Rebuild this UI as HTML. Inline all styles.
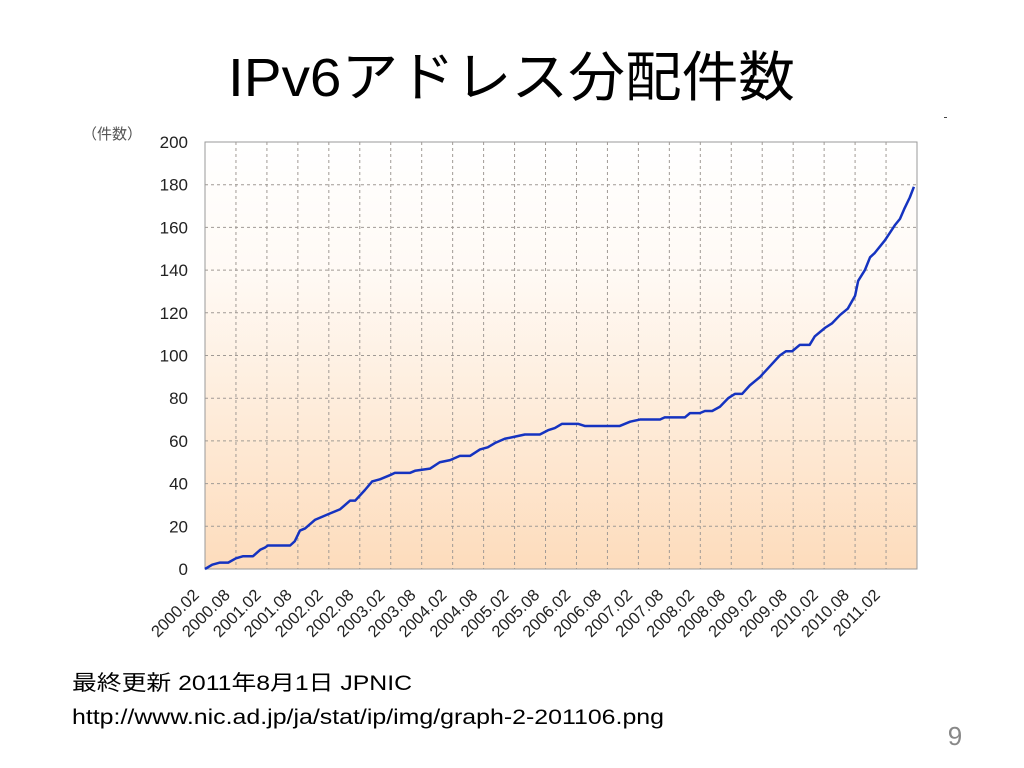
<!DOCTYPE html>
<html><head><meta charset="utf-8"><style>
html,body{margin:0;padding:0;background:#fff;width:1024px;height:768px;overflow:hidden;font-family:"Liberation Sans","Noto Sans CJK JP",sans-serif}
</style></head><body>
<svg width="1024" height="768" viewBox="0 0 1024 768">
<defs><linearGradient id="bg" x1="0" y1="0" x2="0" y2="1">
<stop offset="0" stop-color="#ffffff"/><stop offset="0.3" stop-color="#fffaf5"/><stop offset="1" stop-color="#fddcbc"/></linearGradient></defs>
<text x="228" y="96" font-size="54" textLength="567" lengthAdjust="spacingAndGlyphs" fill="#000">IPv6アドレス分配件数</text>
<rect x="944" y="117" width="3" height="1" fill="#444"/>
<text x="82" y="139" font-size="15" fill="#555">（件数）</text>
<rect x="205" y="142" width="712" height="427" fill="url(#bg)"/>
<g id="grid"></g>
<rect x="205" y="142" width="712" height="427" fill="none" stroke="#999" stroke-width="1"/>
<g id="yticks"></g><g id="xticks"></g>
<polyline id="line" fill="none" stroke="#1533c0" stroke-width="2.5" stroke-linejoin="round"/>
<text x="72" y="690" font-size="21" textLength="340" lengthAdjust="spacingAndGlyphs" fill="#000">最終更新 2011年8月1日 JPNIC</text>
<text x="72" y="724" font-size="21" textLength="592" lengthAdjust="spacingAndGlyphs" fill="#000">http://www.nic.ad.jp/ja/stat/ip/img/graph-2-201106.png</text>
<text x="955" y="745" font-size="26" fill="#888" text-anchor="middle">9</text>
</svg>
<script>
const yTicks=[0,20,40,60,80,100,120,140,160,180,200];
const xLabels=["2000.02","2000.08","2001.02","2001.08","2002.02","2002.08","2003.02","2003.08","2004.02","2004.08","2005.02","2005.08","2006.02","2006.08","2007.02","2007.08","2008.02","2008.08","2009.02","2009.08","2010.02","2010.08","2011.02"];
const months=[0,1.4,2.9,4.5,6,7.4,9.3,10.7,11.6,12.2,16.5,17.4,18.4,19.4,21.3,24.2,26.2,28.1,29.1,31,32.4,33.9,35.9,36.8,39.7,40.7,43.6,45.5,47.5,49.4,51.4,53.3,54.8,56.2,58.1,60.1,62,64.9,66.5,67.8,69.2,72.3,73.6,80.4,82.4,84.3,88.2,89.1,93,94,95.9,96.9,98.3,99.8,101.4,102.7,104.1,105.6,107.6,109.5,111.4,112.6,113.8,115.3,117.2,118.2,120.2,121.5,123.1,124.6,126,126.6,127.9,128.9,129.8,131.8,133.7,134.7,135.6,136.6,137.4];
const counts=[0,2,3,3,5,6,6,9,10,11,11,13,18,19,23,26,28,32,32,37,41,42,44,45,45,46,47,50,51,53,53,56,57,59,61,62,63,63,65,66,68,68,67,67,69,70,70,71,71,73,73,74,74,76,80,82,82,86,90,95,100,102,102,105,105,109,113,115,119,122,128,135,140,146,148,154,161,164,169,174,179];
const X0=205,X1=917,Y0=569,Y1=142,MMAX=138,VMAX=200;
const xs=m=>X0+(X1-X0)*m/MMAX, ys=v=>Y0-(Y0-Y1)*v/VMAX;
const NS="http://www.w3.org/2000/svg";
const grid=document.getElementById('grid'),yt=document.getElementById('yticks'),xt=document.getElementById('xticks');
yTicks.forEach(v=>{
 if(v>0&&v<VMAX){const l=document.createElementNS(NS,'line');
 l.setAttribute('x1',X0);l.setAttribute('x2',X1);l.setAttribute('y1',ys(v));l.setAttribute('y2',ys(v));
 l.setAttribute('stroke','#a09a95');l.setAttribute('stroke-dasharray','3,3');
 
 
 grid.appendChild(l);}
 const t=document.createElementNS(NS,'text');
 t.setAttribute('x',188);t.setAttribute('y',ys(v)+6);t.setAttribute('text-anchor','end');t.setAttribute('font-size','17');t.setAttribute('fill','#222');
 t.textContent=v;
 
 
 yt.appendChild(t);
});
for(let i=1;i<23;i++){const x=xs(i*6);const l=document.createElementNS(NS,'line');
 l.setAttribute('x1',x);l.setAttribute('x2',x);l.setAttribute('y1',Y1);l.setAttribute('y2',Y0);
 l.setAttribute('stroke','#a09a95');l.setAttribute('stroke-dasharray','3,3');
 
 
 grid.appendChild(l);}
xLabels.forEach((s,i)=>{const x=xs(i*6)-5,y=596;
 const t=document.createElementNS(NS,'text');
 t.setAttribute('x',x);t.setAttribute('y',y);t.setAttribute('text-anchor','end');t.setAttribute('font-size','16.5');t.setAttribute('fill','#222');
 t.setAttribute('transform','rotate(-45 '+x+' '+y+')');
 t.textContent=s;
 
 
 xt.appendChild(t);});
document.getElementById('line').setAttribute('points',months.map((m,i)=>xs(m)+','+ys(counts[i])).join(' '));
</script>
</body></html>
